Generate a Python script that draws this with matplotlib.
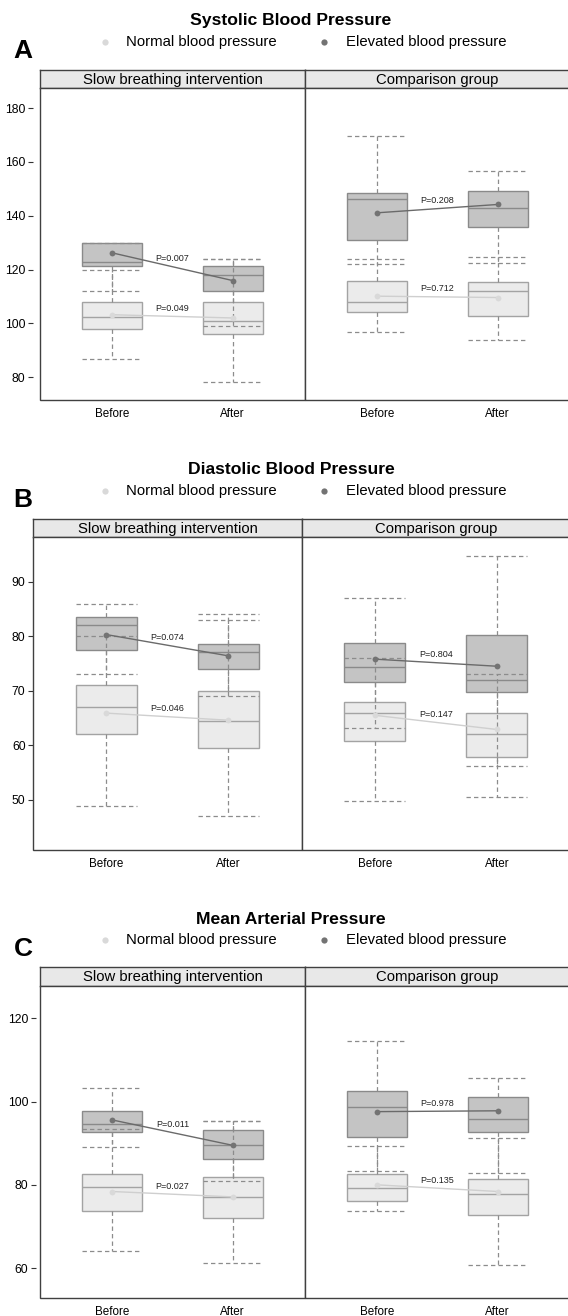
import matplotlib
matplotlib.use("Agg")
import matplotlib.pyplot as plt
from matplotlib.patches import Rectangle

plt.rcParams['font.family'] = ['Liberation Sans', 'DejaVu Sans']

# ===================== DATA =====================
# order in every list: [intervention-before, intervention-after, comparison-before, comparison-after]
TIMES = ['Before', 'After']
FACETS = ['Slow breathing intervention', 'Comparison group']
GROUPS = ['Normal blood pressure', 'Elevated blood pressure']

# Systolic
sbp_norm_low = [86.8, 78.2, 96.6, 93.7]
sbp_norm_q1 = [98.0, 95.9, 104.3, 102.9]
sbp_norm_med = [102.4, 100.9, 108.0, 111.9]
sbp_norm_q3 = [108.0, 108.0, 115.8, 115.4]
sbp_norm_high = [120.0, 124.0, 123.9, 124.6]
sbp_norm_mean = [103.2, 102.0, 110.1, 109.6]
sbp_elev_low = [112.0, 99.0, 122.0, 122.5]
sbp_elev_q1 = [121.4, 112.0, 130.9, 135.8]
sbp_elev_med = [122.9, 117.9, 146.1, 142.7]
sbp_elev_q3 = [129.9, 121.4, 148.6, 149.3]
sbp_elev_high = [129.9, 124.0, 169.7, 156.5]
sbp_elev_mean = [126.2, 115.9, 141.1, 144.2]
sbp_p_norm = ['P=0.049', 'P=0.712']
sbp_p_elev = ['P=0.007', 'P=0.208']

# Diastolic
dbp_norm_low = [48.9, 47.0, 49.8, 50.6]
dbp_norm_q1 = [62.0, 59.5, 60.7, 57.9]
dbp_norm_med = [67.0, 64.5, 66.0, 62.0]
dbp_norm_q3 = [71.0, 70.0, 68.0, 66.0]
dbp_norm_high = [80.0, 83.0, 76.0, 73.0]
dbp_norm_mean = [65.9, 64.6, 65.5, 62.9]
dbp_elev_low = [73.0, 69.0, 63.1, 56.2]
dbp_elev_q1 = [77.5, 74.0, 71.7, 69.7]
dbp_elev_med = [82.0, 77.05, 74.4, 71.9]
dbp_elev_q3 = [83.5, 78.5, 78.7, 80.2]
dbp_elev_high = [86.0, 84.0, 87.1, 94.7]
dbp_elev_mean = [80.3, 76.4, 75.8, 74.5]
dbp_p_norm = ['P=0.046', 'P=0.147']
dbp_p_elev = ['P=0.074', 'P=0.804']

# Mean arterial
map_norm_low = [64.0, 61.2, 73.8, 60.8]
map_norm_q1 = [73.8, 72.1, 76.1, 72.8]
map_norm_med = [79.4, 77.1, 79.3, 77.8]
map_norm_q3 = [82.6, 81.8, 82.6, 81.3]
map_norm_high = [93.4, 95.4, 89.4, 91.3]
map_norm_mean = [78.4, 77.1, 80.0, 78.4]
map_elev_low = [89.0, 81.0, 83.4, 82.8]
map_elev_q1 = [92.6, 86.2, 91.4, 92.6]
map_elev_med = [94.6, 89.6, 98.6, 95.8]
map_elev_q3 = [97.7, 93.1, 102.5, 101.1]
map_elev_high = [103.4, 95.4, 114.6, 105.8]
map_elev_mean = [95.6, 89.5, 97.6, 97.8]
map_p_norm = ['P=0.027', 'P=0.135']
map_p_elev = ['P=0.011', 'P=0.978']

# ===================== STYLE / LAYOUT =====================
W, H = 568, 1316
FRAME = '#404040'
STRIP = '#e8e8e8'
STYLE = {
    'norm': dict(fill='#ebebeb', edge='#a3a3a3', dot='#d9d9d9', line='#cfcfcf'),
    'elev': dict(fill='#c4c4c4', edge='#8a8a8a', dot='#737373', line='#6a6a6a'),
}

# (letter, title, y-limits, y-ticks, left px, divider px, strip top, strip bottom, plot bottom, title y, tick offset px)
PANELS = [
    ('A', 'Systolic Blood Pressure', (71.5, 187.5), [80, 100, 120, 140, 160, 180],
     40, 305, 70, 88, 400, 20, 7),
    ('B', 'Diastolic Blood Pressure', (40.8, 98.2), [50, 60, 70, 80, 90],
     33.3, 301.7, 519, 537, 850, 469, 0),
    ('C', 'Mean Arterial Pressure', (52.8, 127.8), [60, 80, 100, 120],
     40, 305, 967, 986, 1298, 918, 4),
]

DATA = [
    dict(norm=(sbp_norm_low, sbp_norm_q1, sbp_norm_med, sbp_norm_q3, sbp_norm_high, sbp_norm_mean),
         elev=(sbp_elev_low, sbp_elev_q1, sbp_elev_med, sbp_elev_q3, sbp_elev_high, sbp_elev_mean),
         p_norm=sbp_p_norm, p_elev=sbp_p_elev),
    dict(norm=(dbp_norm_low, dbp_norm_q1, dbp_norm_med, dbp_norm_q3, dbp_norm_high, dbp_norm_mean),
         elev=(dbp_elev_low, dbp_elev_q1, dbp_elev_med, dbp_elev_q3, dbp_elev_high, dbp_elev_mean),
         p_norm=dbp_p_norm, p_elev=dbp_p_elev),
    dict(norm=(map_norm_low, map_norm_q1, map_norm_med, map_norm_q3, map_norm_high, map_norm_mean),
         elev=(map_elev_low, map_elev_q1, map_elev_med, map_elev_q3, map_elev_high, map_elev_mean),
         p_norm=map_p_norm, p_elev=map_p_elev),
]


def px_rect(left, top, right, bottom):
    return [left / W, 1 - bottom / H, (right - left) / W, (bottom - top) / H]


def make_stats(arrays, idx):
    low, q1, med, q3, high, _ = arrays
    return [dict(whislo=low[i], q1=q1[i], med=med[i], q3=q3[i], whishi=high[i], fliers=[])
            for i in idx]


def draw_group(ax, arrays, idx, key, ptext):
    st = STYLE[key]
    ax.bxp(make_stats(arrays, idx), positions=[1, 2], widths=0.5, capwidths=0.5,
           patch_artist=True, showfliers=False, manage_ticks=False,
           boxprops=dict(facecolor=st['fill'], edgecolor=st['edge'], linewidth=1.0, zorder=2),
           medianprops=dict(color=st['edge'], linewidth=1.0, zorder=2.1),
           whiskerprops=dict(color='#8c8c8c', linewidth=0.9, linestyle=(0, (3.5, 2.5)), zorder=3),
           capprops=dict(color='#8c8c8c', linewidth=0.9, linestyle=(0, (3.5, 2.5)), zorder=3))
    means = [arrays[5][i] for i in idx]
    ax.plot([1, 2], means, color=st['line'], linewidth=1.0, zorder=4)
    ax.plot([1, 2], means, 'o', color=st['dot'], markersize=4.2, markeredgewidth=0, zorder=5)
    ax.annotate(ptext, xy=(1.5, sum(means) / 2), xytext=(0, 2.5), textcoords='offset points',
                ha='center', va='bottom', fontsize=6.5, color='#222222', zorder=6)


fig = plt.figure(figsize=(W / 100, H / 100), dpi=100)
overlay = fig.add_axes([0, 0, 1, 1], zorder=10)
overlay.set_xlim(0, W)
overlay.set_ylim(H, 0)
overlay.axis('off')

for (letter, title, ylim, yticks, left, div, s_top, s_bot, p_bot, title_y, tick_off), d in zip(PANELS, DATA):
    width = div - left
    # title, letter, legend
    overlay.text(291, title_y + 1, title, ha='center', va='center', fontsize=12.6, fontweight='bold')
    overlay.text(23, title_y + 31, letter, ha='center', va='center', fontsize=19, fontweight='bold')
    leg_y = title_y + 22
    overlay.plot([105], [leg_y], 'o', color=STYLE['norm']['dot'], markersize=4.5, markeredgewidth=0)
    overlay.text(126, leg_y, GROUPS[0], ha='left', va='center', fontsize=10.7)
    overlay.plot([324], [leg_y], 'o', color=STYLE['elev']['dot'], markersize=4.5, markeredgewidth=0)
    overlay.text(346, leg_y, GROUPS[1], ha='left', va='center', fontsize=10.7)

    for f, facet in enumerate(FACETS):
        x0 = left + f * width
        # strip
        sax = fig.add_axes(px_rect(x0, s_top, x0 + width, s_bot))
        sax.set_facecolor(STRIP)
        sax.set_xticks([])
        sax.set_yticks([])
        for sp in sax.spines.values():
            sp.set_color(FRAME)
            sp.set_linewidth(1.0)
        sax.text(0.5, 0.45, facet, ha='center', va='center', fontsize=10.7, transform=sax.transAxes)

        ax = fig.add_axes(px_rect(x0, s_bot, x0 + width, p_bot))
        ax.set_xlim(0.4, 2.6)
        ax.set_ylim(*ylim)
        for sp in ax.spines.values():
            sp.set_visible(False)
        ax.add_patch(Rectangle((0, 0), 1, 1, transform=ax.transAxes, fill=False,
                               edgecolor=FRAME, linewidth=1.0, clip_on=False, zorder=7))

        idx = [2 * f, 2 * f + 1]
        draw_group(ax, d['norm'], idx, 'norm', d['p_norm'][f])
        draw_group(ax, d['elev'], idx, 'elev', d['p_elev'][f])

        ax.set_xticks([1, 2])
        ax.set_xticklabels(TIMES, fontsize=8.4)
        ax.tick_params(axis='x', length=0, pad=6)
        if f == 0:
            ax.spines['left'].set_position(('outward', tick_off * 0.72))
            ax.set_yticks(yticks)
            ax.tick_params(axis='y', labelsize=8.8, length=5 * 0.72, width=0.8, color='#333333', pad=2)
        else:
            ax.set_yticks([])

fig.savefig('out.png', dpi=100)
